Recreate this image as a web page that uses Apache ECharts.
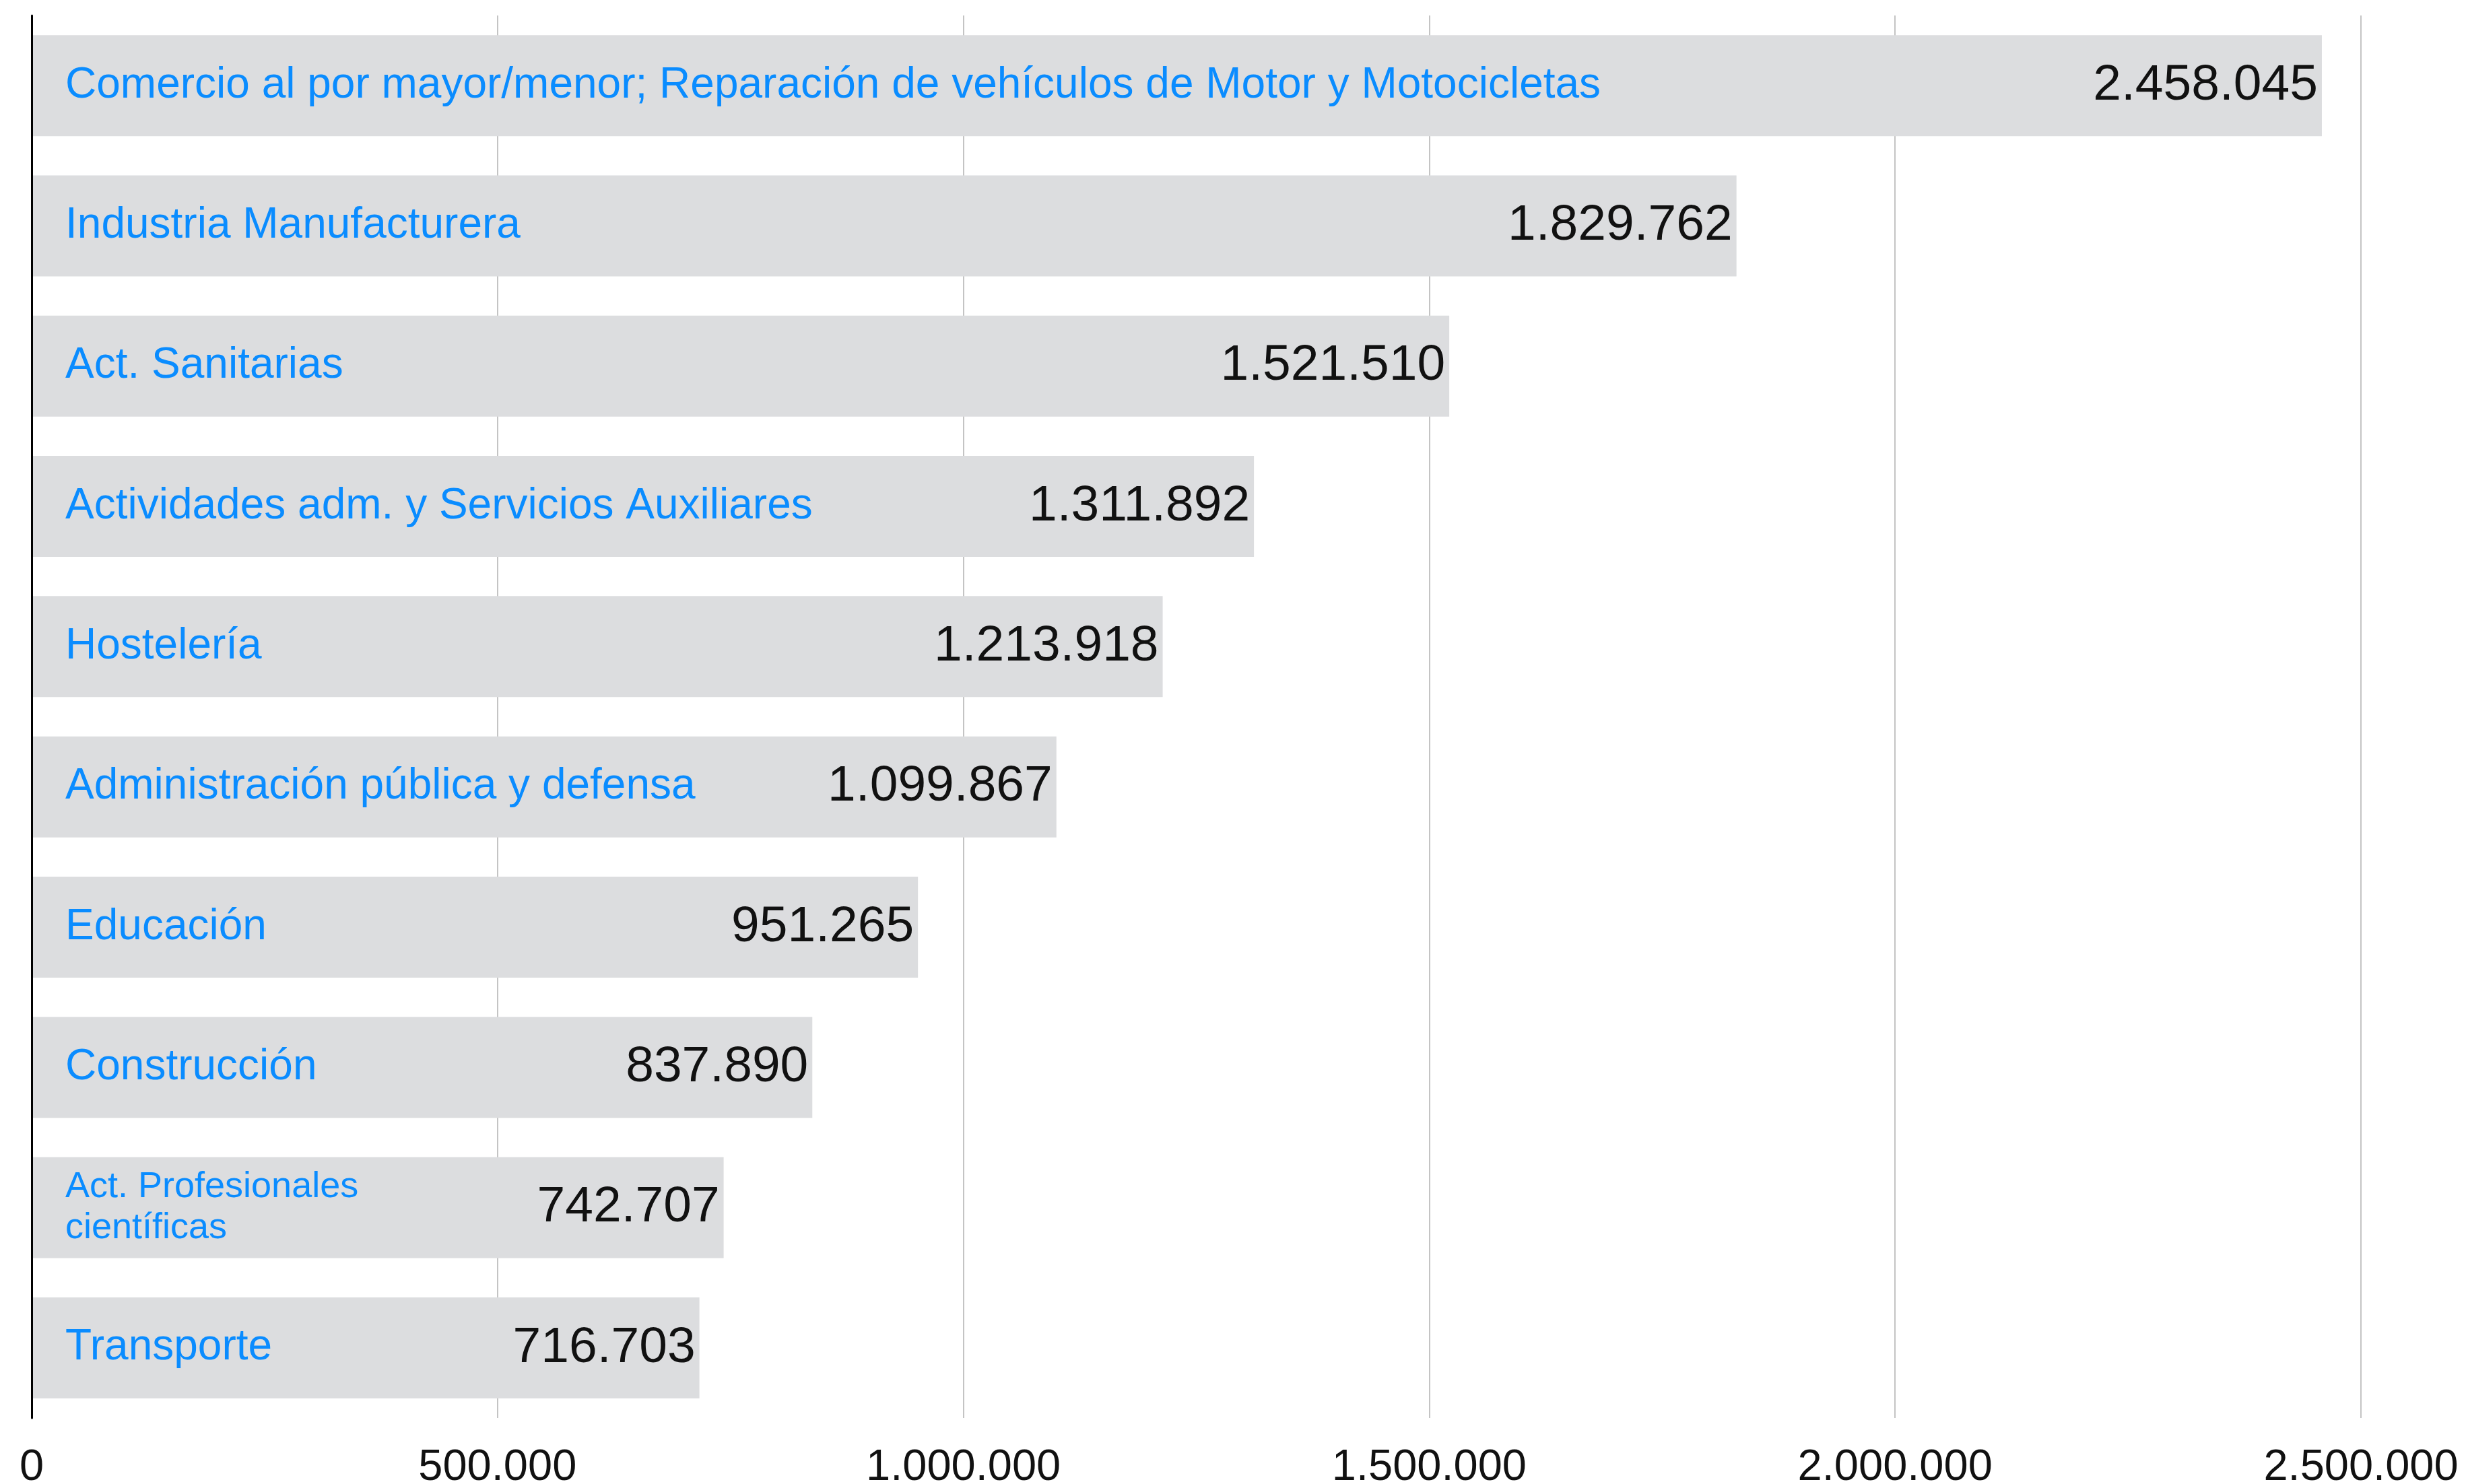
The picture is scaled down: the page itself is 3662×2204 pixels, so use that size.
<!DOCTYPE html>
<html>
<head>
<meta charset="utf-8">
<script src="https://cdn.jsdelivr.net/npm/echarts@6/dist/echarts.min.js"></script>
<style>
  html, body { margin: 0; padding: 0; background: #fff; }
  #chart { width: 3662px; height: 2204px; }
</style>
</head>
<body>
<div id="chart"></div>
<script>
(function () {
  'use strict';

  const sectors = [
    'Comercio al por mayor/menor; Reparación de vehículos de Motor y Motocicletas',
    'Industria Manufacturera',
    'Act. Sanitarias',
    'Actividades adm. y Servicios Auxiliares',
    'Hostelería',
    'Administración pública y defensa',
    'Educación',
    'Construcción',
    'Act. Profesionales\ncientíficas',
    'Transporte'
  ];
  const workers = [2458045, 1829762, 1521510, 1311892, 1213918, 1099867, 951265, 837890, 742707, 716703];
  const ticks = [0, 500000, 1000000, 1500000, 2000000, 2500000];

  const fontFamily = '"Liberation Sans", Arial, sans-serif';

  function fmt(v) {
    return String(Math.round(v)).replace(/\B(?=(\d{3})+(?!\d))/g, '.');
  }

  const chart = echarts.init(document.getElementById('chart'), null, { renderer: 'canvas' });

  // category names sit inside the bar on the left; the two-line one is set smaller
  const nameData = workers.map((v, i) => {
    const twoLines = sectors[i].includes('\n');
    return {
      value: v,
      label: twoLines ? { fontSize: 54, lineHeight: 61 } : {}
    };
  });

  chart.setOption({
    animation: false,
    backgroundColor: '#fff',
    grid: { left: 47, right: 156, top: 23, bottom: 98, containLabel: false, outerBoundsMode: 'none' },
    xAxis: {
      type: 'value',
      min: ticks[0],
      max: ticks[ticks.length - 1],
      interval: 500000,
      axisLine: { show: false },
      axisTick: { show: false },
      splitLine: { show: true, lineStyle: { color: '#c4c4c4', width: 2 } },
      axisLabel: {
        color: '#111',
        fontFamily,
        fontSize: 65,
        margin: 42,
        formatter: (v) => fmt(v)
      }
    },
    yAxis: {
      type: 'category',
      inverse: true,
      data: sectors,
      z: 5,
      axisLine: { show: true, lineStyle: { color: '#000', width: 3 } },
      axisTick: { show: false },
      axisLabel: { show: false },
      splitLine: { show: false }
    },
    series: [
      {
        name: 'Sector',
        type: 'bar',
        data: nameData,
        barWidth: 150,
        itemStyle: { color: '#dcdddf' },
        label: {
          show: true,
          position: 'insideLeft',
          distance: 50,
          color: '#0a8cff',
          fontFamily,
          fontSize: 64,
          formatter: (p) => sectors[p.dataIndex]
        },
        z: 2
      },
      {
        name: 'Valor',
        type: 'bar',
        data: workers,
        barWidth: 150,
        barGap: '-100%',
        itemStyle: { color: 'rgba(0,0,0,0)' },
        label: {
          show: true,
          position: 'insideRight',
          distance: 6,
          color: '#111',
          fontFamily,
          fontSize: 75,
          formatter: (p) => fmt(p.value)
        },
        z: 3
      }
    ]
  });

  window.addEventListener('resize', () => chart.resize());
})();
</script>
</body>
</html>
